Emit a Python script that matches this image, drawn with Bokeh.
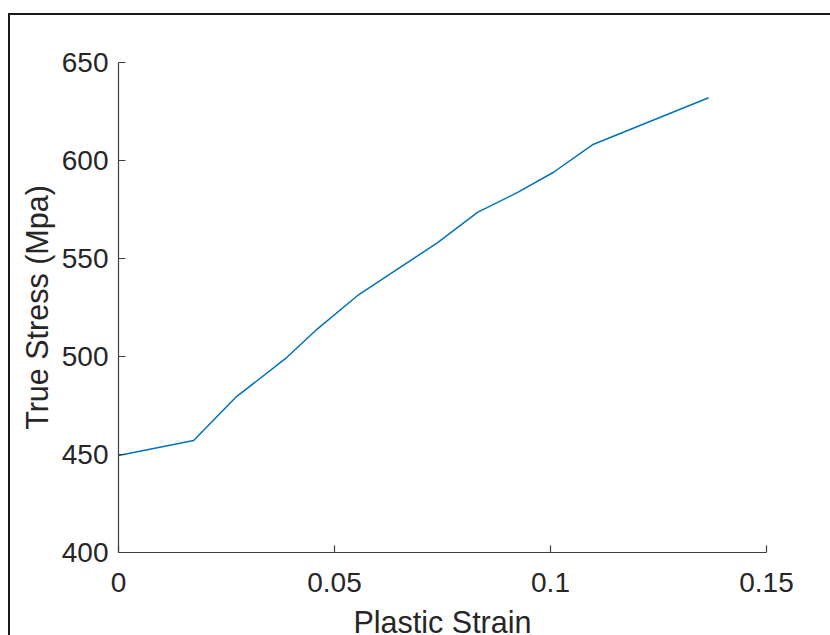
from bokeh.plotting import figure
from bokeh.models import Range1d, FixedTicker
from bokeh.embed import file_html
from bokeh.resources import INLINE

# Data
plastic_strain = [0.0, 0.0174, 0.0271, 0.0387, 0.0460, 0.0553, 0.0738, 0.0831,
                  0.0924, 0.1007, 0.1097, 0.1366]
true_stress = [449.5, 457.1, 479.1, 499.0, 514.0, 531.0, 558.0, 573.5,
               583.7, 594.0, 608.0, 632.0]
x_ticks = [0, 0.05, 0.1, 0.15]
x_tick_labels = {0: "0", 0.05: "0.05", 0.1: "0.1", 0.15: "0.15"}
y_ticks = [400, 450, 500, 550, 600, 650]

FONT = "Liberation Sans"
TEXT = "#262626"
AXIS = "#404040"

p = figure(width=820, height=620, output_backend="svg", toolbar_location=None,
           x_range=Range1d(0, 0.15), y_range=Range1d(400, 650),
           frame_width=648, frame_height=490,
           min_border_left=108, min_border_right=64,
           min_border_top=47, min_border_bottom=83,
           styles={"margin-left": "8px", "margin-top": "13px",
                   "border-left": "2px solid #1a1a1a",
                   "border-top": "2px solid #1a1a1a"})
p.background_fill_color = "white"
p.border_fill_color = "white"
p.outline_line_color = None
p.grid.visible = False

p.line(plastic_strain, true_stress, line_color="#0072BD", line_width=1.5)

for ax in (p.xaxis[0], p.yaxis[0]):
    ax.axis_line_color = AXIS
    ax.axis_line_width = 1.2
    ax.major_tick_line_color = AXIS
    ax.major_tick_line_width = 1.2
    ax.major_tick_in = 7
    ax.major_tick_out = 0
    ax.minor_tick_line_color = None
    ax.major_label_text_font = FONT
    ax.major_label_text_font_size = "28px"
    ax.major_label_text_color = TEXT
    ax.axis_label_text_font = FONT
    ax.axis_label_text_font_size = "30.5px"
    ax.axis_label_text_font_style = "normal"
    ax.axis_label_text_color = TEXT

p.xaxis[0].ticker = FixedTicker(ticks=x_ticks)
p.xaxis[0].major_label_overrides = x_tick_labels
p.xaxis[0].major_label_standoff = 20
p.xaxis[0].axis_label = "Plastic Strain"
p.xaxis[0].axis_label_standoff = 10

p.yaxis[0].ticker = FixedTicker(ticks=y_ticks)
p.yaxis[0].major_label_standoff = 10
p.yaxis[0].axis_label = "True Stress (Mpa)"
p.yaxis[0].axis_label_standoff = 5

open("out.html", "w").write(file_html(p, INLINE))
